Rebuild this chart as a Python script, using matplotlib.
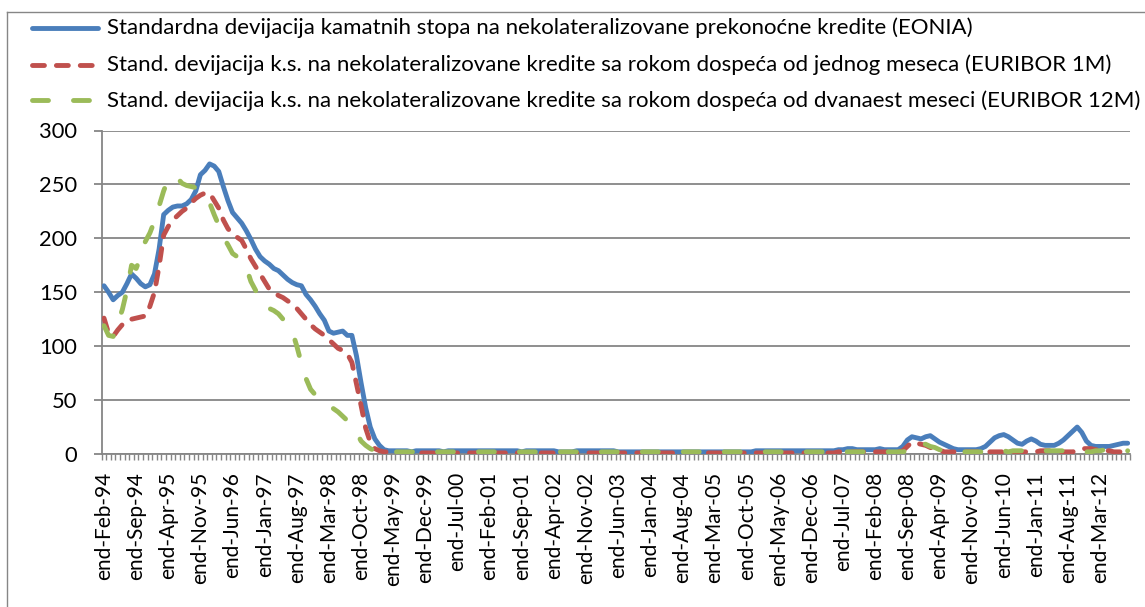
import matplotlib
matplotlib.use("Agg")
import matplotlib.pyplot as plt
from matplotlib.lines import Line2D
import numpy as np

# ---------------- data (monthly, end-Feb-94 ... end-Sep-12) ----------------
series_names = [
    "Standardna devijacija kamatnih stopa na nekolateralizovane prekonoćne kredite (EONIA)",
    "Stand. devijacija k.s. na nekolateralizovane kredite sa rokom dospeća od jednog meseca (EURIBOR 1M)",
    "Stand. devijacija k.s. na nekolateralizovane kredite sa rokom dospeća od dvanaest meseci (EURIBOR 12M)",
]

eonia = [
    156, 150, 143, 147, 150, 158, 167, 163, 158, 155, 157,               # 1994 Feb-Dec
    167, 190, 222, 226, 229, 230, 230, 232, 236, 244, 259, 263,          # 1995
    269, 267, 262, 248, 235, 224, 219, 214, 207, 199, 190, 183,          # 1996
    179, 176, 172, 170, 166, 162, 159, 157, 156, 148, 143, 137,          # 1997
    130, 124, 114, 112, 113, 114, 110, 110, 91, 66, 43, 25,              # 1998
    14, 8, 4, 3, 3, 3, 3, 3, 2, 3, 3, 3,                                 # 1999
    3, 3, 3, 2, 3, 3, 3, 3, 3, 3, 3, 3,                                  # 2000
    3, 3, 3, 3, 3, 3, 3, 3, 2, 3, 3, 3,                                  # 2001
    3, 3, 3, 3, 2, 2, 2, 2, 3, 3, 3, 3,                                  # 2002
    3, 3, 3, 3, 3, 2, 2, 2, 2, 2, 2, 2,                                  # 2003
    2, 2, 2, 2, 2, 2, 2, 2, 2, 2, 2, 2,                                  # 2004
    2, 2, 2, 2, 2, 2, 2, 2, 2, 2, 2, 3,                                  # 2005
    3, 3, 3, 3, 3, 3, 3, 3, 3, 3, 3, 3,                                  # 2006
    3, 3, 3, 3, 3, 4, 4, 5, 5, 4, 4, 4,                                  # 2007
    4, 4, 5, 4, 4, 4, 4, 7, 13, 16, 15, 14,                              # 2008
    16, 17, 14, 11, 9, 7, 5, 4, 4, 4, 4, 4,                              # 2009
    5, 7, 11, 15, 17, 18, 16, 13, 10, 9, 12, 14,                         # 2010
    12, 9, 8, 8, 8, 10, 13, 17, 21, 25, 20, 12,                          # 2011
    8, 7, 7, 7, 7, 8, 9, 10, 10,                                         # 2012 Jan-Sep
]

euribor_1m = [
    126, 112, 109, 115, 120, 124, 125, 126, 127, 128, 137,
    150, 174, 203, 211, 217, 221, 225, 228, 233, 237, 240, 242,
    242, 235, 228, 217, 209, 204, 201, 198, 190, 181, 174, 167,
    160, 153, 150, 147, 145, 142, 139, 135, 130, 125, 120, 116,
    113, 110, 106, 102, 98, 96, 93, 85, 65, 45, 24, 11,
    5, 3, 2, 2, 1, 1, 1, 1, 1, 1, 1, 1,
    1, 1, 1, 1, 1, 1, 1, 1, 1, 1, 1, 1,
    1, 1, 1, 1, 1, 1, 1, 1, 1, 1, 1, 1,
    1, 1, 1, 1, 1, 1, 1, 1, 1, 1, 1, 1,
    1, 1, 1, 1, 1, 1, 1, 1, 1, 1, 1, 1,
    1, 1, 1, 1, 1, 1, 1, 1, 1, 1, 1, 1,
    1, 1, 1, 1, 1, 1, 1, 1, 1, 1, 1, 1,
    1, 1, 1, 1, 1, 1, 1, 1, 1, 1, 1, 1,
    1, 1, 1, 1, 1, 2, 2, 2, 2, 2, 2, 2,
    2, 2, 2, 2, 2, 2, 2, 3, 7, 11, 10, 9,
    8, 6, 5, 4, 2, 2, 2, 2, 2, 2, 2, 2,
    2, 2, 2, 2, 2, 2, 2, 2, 2, 2, 2, 2,
    2, 3, 3, 3, 3, 2, 2, 2, 2, 3, 5, 5,
    5, 4, 4, 3, 3, 2, 2, 2, 2,
]

euribor_12m = [
    119, 110, 109, 121, 134, 152, 175, 172, 183, 197, 205,
    216, 230, 244, 255, 258, 256, 251, 249, 248, 247, 243, 238,
    233, 222, 212, 201, 194, 186, 183, 180, 173, 160, 152, 140,
    137, 135, 133, 130, 125, 120, 114, 100, 84, 70, 60, 55,
    50, 48, 45, 42, 39, 35, 31, 25, 20, 12, 8, 5,
    3, 2, 2, 2, 2, 2, 2, 2, 2, 2, 2, 2,
    2, 2, 2, 2, 2, 2, 2, 2, 2, 2, 2, 2,
    2, 2, 2, 2, 2, 2, 2, 2, 2, 2, 2, 2,
    2, 2, 2, 2, 2, 2, 2, 2, 2, 2, 2, 2,
    2, 2, 2, 2, 2, 2, 2, 2, 2, 2, 2, 2,
    2, 2, 2, 2, 2, 2, 2, 2, 2, 2, 2, 2,
    2, 2, 2, 2, 2, 2, 2, 2, 2, 2, 2, 2,
    2, 2, 2, 2, 2, 2, 2, 2, 2, 2, 2, 2,
    2, 2, 2, 2, 2, 2, 2, 2, 2, 2, 2, 2,
    2, 2, 2, 2, 2, 2, 2, 2, 3, 8, 11, 10,
    9, 7, 6, 4, 3, 2, 2, 2, 2, 2, 2, 2,
    2, 2, 2, 3, 3, 3, 2, 3, 3, 3, 4, 4,
    4, 3, 3, 3, 3, 3, 3, 3, 3, 3, 3, 2,
    2, 3, 3, 4, 4, 4, 3, 3, 3,
]

tick_labels = [
    "end-Feb-94", "end-Sep-94", "end-Apr-95", "end-Nov-95", "end-Jun-96", "end-Jan-97",
    "end-Aug-97", "end-Mar-98", "end-Oct-98", "end-May-99", "end-Dec-99", "end-Jul-00",
    "end-Feb-01", "end-Sep-01", "end-Apr-02", "end-Nov-02", "end-Jun-03", "end-Jan-04",
    "end-Aug-04", "end-Mar-05", "end-Oct-05", "end-May-06", "end-Dec-06", "end-Jul-07",
    "end-Feb-08", "end-Sep-08", "end-Apr-09", "end-Nov-09", "end-Jun-10", "end-Jan-11",
    "end-Aug-11", "end-Mar-12",
]
label_step = 7
y_ticks = [0, 50, 100, 150, 200, 250, 300]

# ---------------- styling ----------------
plt.rcParams["lines.scale_dashes"] = False
FAM = ["Lato", "DejaVu Sans"]
GRAY = "#868686"
C_BLUE, C_RED, C_GREEN = "#4A7EBB", "#C0504D", "#9BBB59"
LW = 3.5
RED_DASH = (0, (8.6, 8.6))
GREEN_DASH = (0, (11.5, 18.0))

W, H = 1145, 607
fig = plt.figure(figsize=(W / 100, H / 100), dpi=100)
renderer = fig.canvas.get_renderer()


def fx(px):
    return px / W


def fy(py):
    return 1 - py / H


def fit_size(text, target_px, base=12.0):
    t = fig.text(0, 0, text, fontsize=base, family=FAM)
    w = t.get_window_extent(renderer).width
    t.remove()
    return base * target_px / w


leg_fs = fit_size(series_names[2], 1026)
ytick_fs = fit_size("300", 38)
xtick_fs = fit_size("end-Feb-94", 108)

ax_left, ax_right, ax_top, ax_bot = 101.7, 1130, 130.5, 454
ax = fig.add_axes([fx(ax_left), fy(ax_bot), (ax_right - ax_left) / W, (ax_bot - ax_top) / H])

n = len(eonia)
x = np.arange(n)
ax.plot(x, eonia, color=C_BLUE, lw=LW, solid_capstyle="round", solid_joinstyle="round", zorder=3)
ax.plot(x, euribor_1m, color=C_RED, lw=LW, linestyle=RED_DASH, dash_capstyle="round",
        dash_joinstyle="round", zorder=4)
ax.plot(x, euribor_12m, color=C_GREEN, lw=LW, linestyle=GREEN_DASH, dash_capstyle="round",
        dash_joinstyle="round", zorder=5)

ax.set_xlim(-0.5, n - 0.5)
ax.set_ylim(0, 300)

ax.set_yticks(y_ticks)
ax.set_yticklabels([str(v) for v in y_ticks], family=FAM, fontsize=ytick_fs)
ax.yaxis.grid(True, color=GRAY, lw=1.3)
ax.set_axisbelow(True)
ax.tick_params(axis="y", length=5.5, width=1.3, color=GRAY, pad=12.5)

major_pos = np.arange(0, len(tick_labels) * label_step, label_step)
ax.set_xticks(major_pos)
ax.set_xticklabels(tick_labels, rotation=90, family=FAM, fontsize=xtick_fs)
ax.set_xticks(np.arange(-0.5, n, 1), minor=True)
ax.tick_params(axis="x", which="major", length=0, pad=13)
ax.tick_params(axis="x", which="minor", length=4.5, width=1.0, color=GRAY)

for s in ("top", "right"):
    ax.spines[s].set_visible(False)
for s in ("left", "bottom"):
    ax.spines[s].set_color(GRAY)
    ax.spines[s].set_linewidth(1.3)

# ---------------- legend (manual, top-left) ----------------
styles = [
    dict(color=C_BLUE, lw=LW, solid_capstyle="round"),
    dict(color=C_RED, lw=LW, linestyle=RED_DASH, dash_capstyle="round"),
    dict(color=C_GREEN, lw=LW, linestyle=GREEN_DASH, dash_capstyle="round"),
]
rows_y = [28, 64.5, 100.5]
for name, st, yy in zip(series_names, styles, rows_y):
    fig.add_artist(Line2D([fx(32), fx(98)], [fy(yy), fy(yy)], transform=fig.transFigure, **st))
    fig.text(fx(107), fy(yy), name, family=FAM, fontsize=leg_fs, va="center", ha="left")

# chart-area border
fig.add_artist(Line2D([fx(6.7), fx(6.7)], [fy(11.7), 0], transform=fig.transFigure, color=GRAY, lw=1.0))
fig.add_artist(Line2D([fx(6.7), 1], [fy(11.7), fy(11.7)], transform=fig.transFigure, color=GRAY, lw=1.0))

fig.savefig("out.png", dpi=100)
